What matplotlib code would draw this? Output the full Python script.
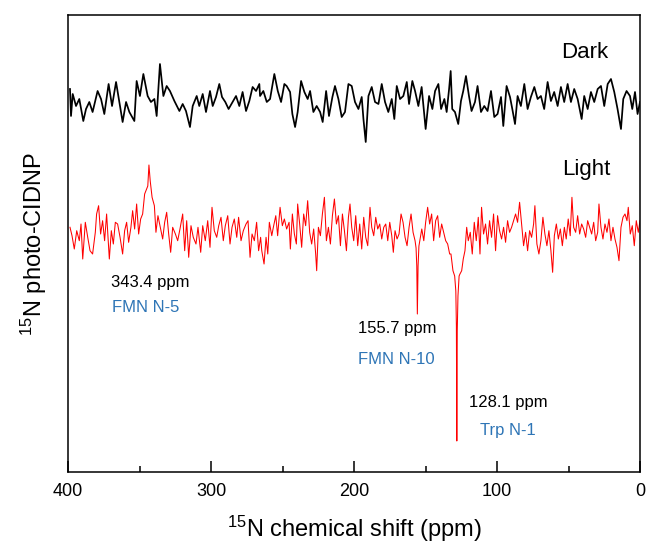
import matplotlib
matplotlib.use("Agg")
import matplotlib.pyplot as plt
from matplotlib.ticker import MultipleLocator

plt.rcParams['font.family'] = ['Liberation Sans', 'DejaVu Sans']
plt.rcParams['mathtext.fontset'] = 'custom'
plt.rcParams['mathtext.rm'] = 'Liberation Sans'

# dark spectrum (ppm, intensity)
dark_ppm = [398.6, 397.9, 396.7, 394.4, 392.1, 389.3, 387.4, 385.1, 382.8, 379.3,
            376.9, 374.6, 371.6, 369.2, 366.4, 364.1, 361.8, 359.4, 357.1, 353.6,
            352.0, 349.7, 347.3, 344.3, 342.0, 339.6, 338.0, 335.7, 333.3, 331.0,
            328.7, 325.6, 322.1, 319.8, 317.5, 314.7, 312.8, 310.0, 308.2, 305.8,
            303.5, 300.7, 298.8, 296.5, 294.2, 292.3, 290.0, 287.7, 284.9, 282.5,
            280.2, 277.9, 275.5, 273.2, 270.9, 268.5, 266.2,
            265.7, 263.4, 261.0, 258.7, 255.7, 253.3, 251.0, 248.7, 247.1, 244.7,
            243.1, 241.2, 239.4, 237.0, 234.7, 232.4, 230.7, 228.4, 226.1, 223.7,
            221.9, 219.5, 217.5, 215.1, 213.3, 210.9, 208.6, 206.3, 203.9, 201.6,
            199.3, 196.9, 194.6, 193.4, 191.8, 189.9, 187.6, 185.3, 182.9, 180.6,
            178.3, 176.0, 173.6, 171.8, 170.1, 167.8, 165.5, 163.1, 161.5, 159.2,
            157.3, 155.0, 152.7, 149.9, 147.5, 145.2, 143.3, 141.0, 139.1, 136.8,
            135.2, 133.5,
            132.4, 131.3, 129.4, 127.1, 125.2, 123.6, 121.7, 119.6, 117.8, 115.4,
            113.6, 111.2, 108.9, 106.6, 104.2, 101.9, 99.6, 97.2, 95.6, 93.3,
            90.9, 89.3, 87.4, 85.6, 83.3, 80.9, 78.6, 76.3, 73.9, 71.6,
            69.3, 67.0, 64.6, 62.3, 60.0, 57.6, 55.3, 53.0, 50.6, 48.3,
            46.0, 43.6, 40.8, 39.0, 36.6, 34.3, 32.0, 29.6, 27.3, 25.0,
            22.6, 20.3, 18.0, 15.7, 13.3, 11.7, 9.4, 7.0, 5.4, 3.5, 1.7, 0.0]
dark_int = [15, -12, 10, -2, 5, -17, -5, 2, -8, 13,
            5, -10, 20, -2, 22, 2, -18, 2, -8, -17,
            23, 8, 30, 8, 2, 5, -12, 40, 8, 18,
            13, 3, -7, 0, -7, -23, -2, 8, -2, 10,
            -8, 13, -2, 7, 20, 7, 2, -5, 2, 8,
            -2, 12, -7, 3, 17, 13, 20,
            8, 13, 2, 5, 30, 13, 2, 20, 18, 12,
            -10, -23, -8, 23, 12, 5, 13, -8, -2, -8,
            -18, 13, -12, 7, 18, 5, -13, -8, 20, 18,
            2, -5, 7, -15, -38, 8, 17, 2, 0, 20,
            2, -8, 5, -15, 18, 5, 8, 22, 0, 23,
            13, -2, 17, -25, 8, -5, 13, 20, -5, 5,
            -8, 15,
            33, -5, -8, -20, 3, 13, 28, 8, -7, 2,
            18, -8, -2, -7, 13, -13, -10, 7, -22, 18,
            7, -5, -20, 8, -2, 20, -5, 7, 17, 5,
            8, -5, 22, 3, 12, -2, 17, 2, 20, 2,
            15, 5, -15, 8, -5, 12, 2, 15, 18, -2,
            20, 25, 12, -5, -25, 5, 13, 8, -5, 12, -10, 2]

# light spectrum (ppm, intensity)
light_ppm = [398.6, 397.2, 395.6, 393.9, 392.1, 390.9, 389.7, 387.9, 386.2, 384.6,
             382.8, 380.9, 380.0, 378.6, 377.2, 375.8, 374.4, 373.0, 371.1, 369.7,
             368.3, 366.9, 365.3, 363.6, 361.8, 360.4, 359.0, 357.6, 356.0, 354.8,
             353.4, 352.0, 350.6, 349.2, 347.8, 346.4, 345.0, 344.2, 343.4, 342.5,
             341.2, 339.6, 338.5, 337.1, 335.7, 333.8, 332.4, 331.0, 329.6, 328.2,
             326.8, 324.9, 323.3, 321.7, 319.8, 318.4, 317.0, 315.6, 314.0, 312.4,
             310.5, 309.1, 307.2, 305.8, 304.0, 302.3, 300.7, 299.3, 297.7, 296.0,
             294.6, 293.0, 291.4, 290.0, 288.3, 286.7, 285.3, 283.7, 282.0, 280.7,
             279.0, 277.4, 275.5, 274.1, 272.7, 271.3, 269.7, 268.1, 266.7, 265.3,
             264.5, 262.9, 261.5, 260.3, 259.2, 257.5, 256.4, 254.7, 253.4, 251.7,
             250.1, 248.7, 247.1, 245.4, 244.5, 243.1, 241.7, 240.3, 239.4, 238.0,
             236.6, 235.2, 233.8, 232.4, 231.0, 229.6, 228.2, 226.8, 226.1, 224.9,
             223.5, 222.1, 220.7, 219.3, 217.9, 216.5, 215.1, 213.7, 212.3, 210.9,
             209.5, 208.1, 206.7, 205.3, 203.9, 202.8, 201.6, 200.2, 198.8, 197.4,
             196.0, 194.6, 193.2, 191.8, 190.4, 188.8, 187.6, 186.2, 184.8, 183.4,
             182.0, 180.6, 179.2, 177.8, 176.4, 175.0, 173.6, 172.5, 171.3, 169.9,
             168.5, 167.1, 165.7, 164.3, 162.9, 161.5, 160.1, 158.7, 157.3, 156.6,
             156.1, 155.7, 155.2, 154.6, 153.8, 152.6, 151.2, 149.9, 148.5, 147.1,
             145.7, 144.3, 142.9, 141.5, 140.1, 138.7, 137.3, 135.9, 134.5, 133.1,
             132.2, 130.8, 129.6, 128.8, 128.4, 128.1, 127.8, 127.3, 126.5, 125.9,
             124.7, 123.6, 122.4, 121.2, 120.1, 118.7, 117.3, 115.9, 114.5, 113.1,
             111.9, 110.8, 109.4, 108.0, 106.6, 105.2, 103.8, 102.4, 101.0, 99.6,
             98.2, 96.8, 95.4, 94.0, 92.6, 91.2, 89.8, 88.4, 87.0, 85.6,
             84.2, 82.8, 81.4, 80.0, 78.6, 77.2, 75.8, 74.4, 73.5, 72.1,
             70.7, 69.3, 67.9, 66.5, 65.1, 63.7, 62.3, 61.1, 59.9, 58.5,
             57.1, 55.7, 54.3, 52.9, 51.6, 50.2, 48.8, 47.6, 46.4, 45.0,
             43.6, 42.2, 40.8, 39.4, 38.0, 36.6, 35.2, 33.8, 32.4, 31.0,
             29.6, 28.7, 27.3, 25.9, 24.5, 23.1, 21.7, 20.3, 18.9, 17.5,
             16.1, 14.7, 13.3, 11.9, 10.5, 9.1, 8.2, 6.8, 5.4, 4.0,
             2.6, 1.2, 0.0]
light_int = [8.7, 0.3, -13, 5.3, -4.7, 12, -23, 13.7, -1.3, -14.7,
             -18, 3.7, 22, 30.3, 2, 15.3, -4.7, 22, -23, 5.3,
             -8, 13.7, 12, -1.3, -18, 5.3, 13.7, -6.3, 8.7, 25.3,
             7, 32, 2, 17, 22, 42, 47, 50, 71, 55,
             38.7, 30.3, 3.7, 20.3, 10.3, -3, 13.7, 23.7, 2, -16.3,
             8.7, 2, -4.7, 7, 22, -14.7, 15.3, -21.3, 10.3, -1.3,
             -8, 8.7, -16.3, 10.3, -4.7, 15.3, -11.3, 28.7, 5.3, -1.3,
             10.3, 18.7, -4.7, 10.3, 20.3, -8, 8.7, 17, -1.3, 18.7,
             -4.7, 5.3, 12, 15.3, -21.3, 2, -4.7, 13.7, -14.7, -1.3,
             -14.7, -28, -1.3, -18, 13.7, 0.3, 8.7, 20.3, 0.3, 28.7,
             10.3, 17, 7, 13.7, -13, 22, 2, -8, 32, 12,
             -11.3, 22, 10.3, 35.3, 3.7, -8, 7, -18, -34.7, 8.7,
             0.3, 22, 38.7, -4.7, 8.7, -8, 20.3, 37, 12, 20.3,
             -9.7, 22, 5.3, -14.7, 18.7, 32, 8.7, -4.7, 20.3, -9.7,
             12, -13, 18.7, -1.3, -9.7, 28.7, 8.7, 0.3, 18.7, 7,
             12, -3, 8.7, 12, -4.7, 13.7, 0.3, -16.3, 5.3, -3,
             2, 22, 13.7, -1.3, -9.7, 8.7, 22, 3.7, -4.7, -12,
             -30, -78, -30, -10, -3, 7, -4.7, 13.7, 28.7, 12,
             22, -4.7, 15.3, 20.3, -1.3, 12, 3.7, -4.7, -8, -18,
             -18, -34.7, -40, -55, -90, -205, -95, -60, -40, -38,
             -34.7, -23, -14.7, 8.7, -4.7, 3.7, -18, 13.7, -4.7, 18.7,
             -18, 28.7, 2, 12, -8, 15.3, -1.3, 22, -14.7, 20.3,
             5.3, -3, 8.7, -6.3, 15.3, 3.7, 8.7, 15.3, 22, 13.7,
             33.7, 12, -9.7, 3.7, -14.7, 5.3, -1.3, 12, 30.3, -8,
             -18, -4.7, 18.7, 2, -9.7, 5.3, -14.7, -36.3, 0.3, 12,
             -3, 7, -9.7, 8.7, -3, 17, 0.3, 38.7, 8.7, 3.7,
             20.3, 2, 12, 7, -1.3, 15.3, 8.7, 2, 13.7, -4.7,
             3.7, 32, 8.7, -3, 12, 3.7, 17, -4.7, 8.7, -3,
             -11.3, -24.7, 8.7, 18.7, 22, 15.3, 28.7, 2, 10.3, -9.7,
             15.3, 3.7, 15.3]

# peak labels: (ppm, height, text, colour)
labels = [(342.7, 190, '343.4 ppm', 'black'),
          (345.5, 165, 'FMN N-5', '#2E75B6'),
          (169.9, 143, '155.7 ppm', 'black'),
          (170.6, 112, 'FMN N-10', '#2E75B6'),
          (92.3, 69, '128.1 ppm', 'black'),
          (92.3, 42, 'Trp N-1', '#2E75B6')]

dark_offset = 368
light_offset = 236

fig = plt.figure(figsize=(6.46, 5.47), dpi=100)
ax = fig.add_axes([68 / 646, 75 / 547, 572 / 646, 457 / 547])

ax.plot(dark_ppm, [v + dark_offset for v in dark_int], color='black', lw=1.25)
ax.plot(light_ppm, [v + light_offset for v in light_int], color='red', lw=0.75)

ax.text(38.5, 420, 'Dark', fontsize=16, ha='center', va='center')
ax.text(37.8, 303, 'Light', fontsize=16, ha='center', va='center')
for x, y, txt, col in labels:
    ax.text(x, y, txt, fontsize=12, color=col, ha='center', va='center')

ax.set_xlim(400, 0)
ax.set_ylim(0, 457)
ax.set_yticks([])
ax.xaxis.set_major_locator(MultipleLocator(100))
ax.xaxis.set_minor_locator(MultipleLocator(50))
ax.tick_params(axis='x', which='major', direction='in', length=8, width=1.1,
               labelsize=13, pad=8)
ax.tick_params(axis='x', which='minor', direction='in', length=4, width=1.1)
for s in ax.spines.values():
    s.set_linewidth(1.1)

ax.set_xlabel(r'$\mathregular{^{15}}$N chemical shift (ppm)', fontsize=17, labelpad=10)
ax.set_ylabel(r'$\mathregular{^{15}}$N photo-CIDNP', fontsize=17, labelpad=14)

fig.savefig('out.png', dpi=100)
